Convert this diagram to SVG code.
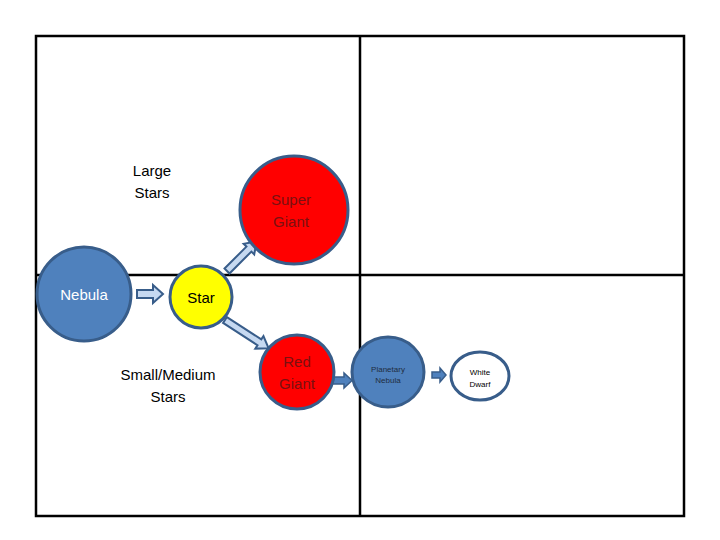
<svg xmlns="http://www.w3.org/2000/svg" width="720" height="540" viewBox="0 0 720 540">
<style>
.frame{fill:none;stroke:#000;stroke-width:2.5}
.ln{stroke:#000;stroke-width:2.5}
.node{stroke:#385d8a;stroke-width:3}
.t{font-family:"Liberation Sans",Arial,sans-serif;text-anchor:middle}
.light{fill:#c6d9f1;stroke:#385d8a;stroke-width:2}
.dark{fill:#4f81bd;stroke:#385d8a;stroke-width:1.5}
</style>
<rect width="720" height="540" fill="#fff"/>
<g id="frame">
<rect class="frame" x="36" y="36" width="648" height="480"/>
<line class="ln" x1="360" y1="36" x2="360" y2="516"/>
<line class="ln" x1="36" y1="275" x2="684" y2="275"/>
</g>
<g id="labels">
<text class="t" x="152" y="176" font-size="15">Large</text>
<text class="t" x="152" y="198" font-size="15">Stars</text>
<text class="t" x="168" y="380" font-size="15">Small/Medium</text>
<text class="t" x="168" y="402" font-size="15">Stars</text>
</g>
<g id="connectors">
<path class="light" d="M137,290 H153 V285 L163,294 L153,303 V298 H137 Z"/>
<path class="light" transform="translate(227,271) rotate(-45)" d="M0,-3.5 H31 V-7.5 L42,0 L31,7.5 V3.5 H0 Z"/>
<path class="light" transform="translate(225,320) rotate(33)" d="M0,-3.5 H41 V-7.5 L52,0 L41,7.5 V3.5 H0 Z"/>
<path class="dark" d="M333,377 H344 V373 L352,380.5 L344,388 V384 H333 Z"/>
<path class="dark" d="M432,372 H440 V368 L446,375 L440,382 V378 H432 Z"/>
</g>
<g id="nebula">
<circle class="node" cx="84" cy="294" r="47" fill="#4f81bd"/>
<text class="t" x="84" y="300" font-size="15" fill="#fff">Nebula</text>
</g>
<g id="star">
<circle class="node" cx="201" cy="297" r="31" fill="#ffff00"/>
<text class="t" x="201" y="303" font-size="15" fill="#000">Star</text>
</g>
<g id="super-giant">
<circle class="node" cx="294" cy="210" r="54" fill="#ff0000"/>
<text class="t" x="291" y="205" font-size="15" fill="#7a1010">Super</text>
<text class="t" x="291" y="227" font-size="15" fill="#7a1010">Giant</text>
</g>
<g id="red-giant">
<circle class="node" cx="297" cy="372" r="37" fill="#ff0000"/>
<text class="t" x="297" y="367" font-size="15" fill="#7a1010">Red</text>
<text class="t" x="297" y="389" font-size="15" fill="#7a1010">Giant</text>
</g>
<g id="planetary-nebula">
<ellipse class="node" cx="388" cy="372" rx="36" ry="35" fill="#4f81bd"/>
<text class="t" x="388" y="372" font-size="8" fill="#1f2d3d">Planetary</text>
<text class="t" x="388" y="383" font-size="8" fill="#1f2d3d">Nebula</text>
</g>
<g id="white-dwarf">
<ellipse class="node" cx="480" cy="376" rx="29" ry="24" fill="#fff"/>
<text class="t" x="480" y="375" font-size="8" fill="#000">White</text>
<text class="t" x="480" y="387" font-size="8" fill="#000">Dwarf</text>
</g>
</svg>
